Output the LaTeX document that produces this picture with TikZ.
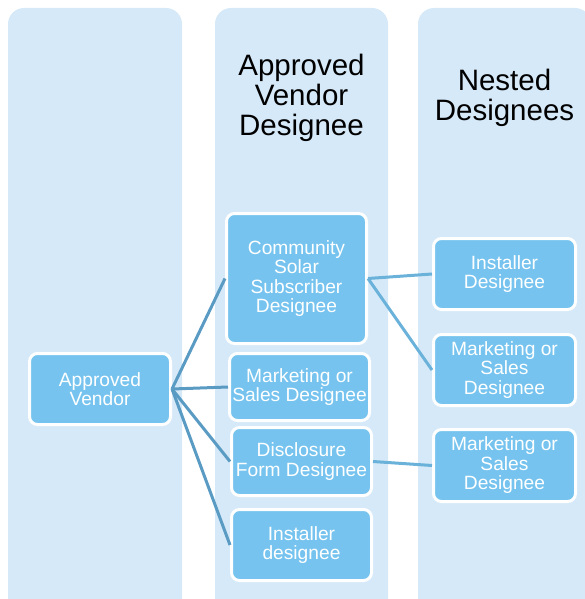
\documentclass[tikz,border=0pt]{standalone}
\usepackage{fontspec}
\setmainfont{Liberation Sans}
\definecolor{colbg}{HTML}{D6E9F8}
\definecolor{boxfill}{HTML}{75C3EE}
\definecolor{linkdark}{HTML}{5A9BC4}
\definecolor{linklight}{HTML}{6AB2DA}
\begin{document}
\begin{tikzpicture}[x=1pt,y=-1pt,
  column/.style={fill=colbg,draw=none,rounded corners=16pt},
  title/.style={align=center,font=\fontsize{29.5}{30}\selectfont,text=black,inner sep=0pt},
  box/.style={draw=white,line width=3pt,fill=boxfill,rounded corners=8pt,align=center,
    text=white,font=\fontsize{19.2}{19.5}\selectfont,inner sep=2pt},
  linkA/.style={draw=linkdark,line width=3pt},
  linkB/.style={draw=linklight,line width=3pt}]
\useasboundingbox (0,0) rectangle (585,599);
\begin{scope}
\clip (0,0) rectangle (585,599);
\fill[column] (8,8) rectangle (182,616);
\fill[column] (215,8) rectangle (388,616);
\fill[column] (418,8) rectangle (591,616);
\end{scope}
\node[title] (t2) at (301.5,98) {Approved\\Vendor\\Designee};
\node[title] (t3) at (504.5,98) {Nested\\Designees};
\node[box,minimum width=141pt,minimum height=71pt] (av) at (100,389) {Approved\\Vendor};
\node[box,minimum width=140pt,minimum height=130pt] (cs) at (296.5,278.5) {Community\\Solar\\Subscriber\\Designee};
\node[box,minimum width=140pt,minimum height=67pt] (ms) at (299.5,387) {Marketing or\\Sales Designee};
\node[box,minimum width=140pt,minimum height=68pt] (df) at (301.5,461.5) {Disclosure\\Form Designee};
\node[box,minimum width=140pt,minimum height=71pt] (in) at (301.5,545) {Installer\\designee};
\node[box,minimum width=142pt,minimum height=71pt] (ir) at (504.5,274) {Installer\\Designee};
\node[box,minimum width=142pt,minimum height=71pt] (m1) at (504.5,370) {Marketing or\\Sales\\Designee};
\node[box,minimum width=142pt,minimum height=72pt] (m2) at (504.5,465.5) {Marketing or\\Sales\\Designee};
\draw[linkA] (av.east) -- (cs.west);
\draw[linkA] (av.east) -- (ms.west);
\draw[linkA] (av.east) -- (df.west);
\draw[linkA] (av.east) -- (in.west);
\draw[linkB] (cs.east) -- (ir.west);
\draw[linkB] (cs.east) -- (m1.west);
\draw[linkB] (df.east) -- (m2.west);
\end{tikzpicture}
\end{document}
